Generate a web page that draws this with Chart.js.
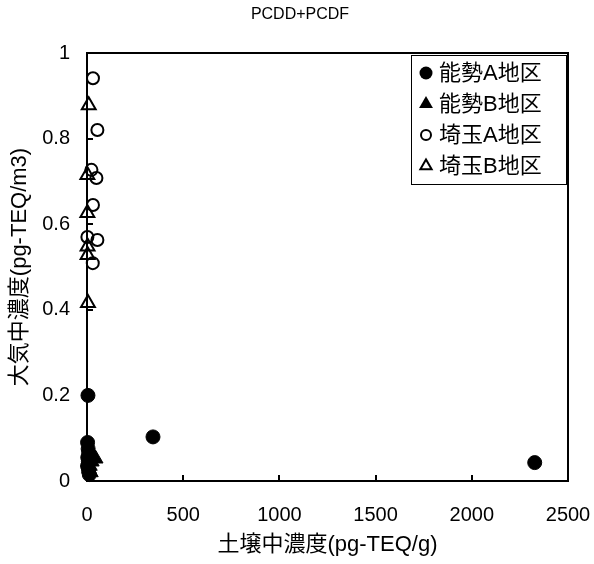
<!DOCTYPE html>
<html>
<head>
<meta charset="utf-8">
<script src="https://cdn.jsdelivr.net/npm/chart.js@4.4.1/dist/chart.umd.min.js"></script>
<style>
  html, body { margin: 0; padding: 0; background: #fff; }
</style>
</head>
<body>
<canvas id="scatterChart" width="594" height="564"></canvas>
<script>
  // series names (legend order)
  const seriesNames = ["能勢A地区", "能勢B地区", "埼玉A地区", "埼玉B地区"];

  // soil concentration (x) / air concentration (y)
  const noseA_x = [5, 343, 2327, 3, 6, 9, 4, 7, 3, 8, 12];
  const noseA_y = [0.20, 0.103, 0.043, 0.09, 0.075, 0.065, 0.055, 0.045, 0.035, 0.025, 0.015];

  const noseB_x = [45, 25, 15, 10, 20];
  const noseB_y = [0.052, 0.045, 0.035, 0.028, 0.02];

  const saitamaA_x = [31, 54, 23, 49, 31, 2, 54, 30];
  const saitamaA_y = [0.941, 0.82, 0.727, 0.708, 0.645, 0.57, 0.563, 0.509];

  const saitamaB_x = [9, 2, 2, 3, 3, 5];
  const saitamaB_y = [0.878, 0.715, 0.626, 0.548, 0.528, 0.416];

  const xTicks = [0, 500, 1000, 1500, 2000, 2500];
  const yTicks = [0, 0.2, 0.4, 0.6, 0.8, 1];

  const chartTitle = "PCDD+PCDF";
  const xTitle = "土壌中濃度(pg-TEQ/g)";
  const yTitle = "大気中濃度(pg-TEQ/m3)";

  const FONT = "'Liberation Sans', 'Noto Sans CJK JP', sans-serif";

  function toPoints(xs, ys) {
    return xs.map(function (x, i) { return { x: x, y: ys[i] }; });
  }

  Chart.defaults.font.family = FONT;
  Chart.defaults.color = "#000";

  /**
   * Box around the plot, legend box, and title
   */
  const frameAndLegend = {
    id: "frameAndLegend",
    afterDatasetsDraw: function (chart) {
      const ctx = chart.ctx;
      const a = chart.chartArea;
      ctx.save();
      ctx.strokeStyle = "#000";
      ctx.lineWidth = 2;
      ctx.strokeRect(a.left, a.top, a.right - a.left, a.bottom - a.top);

      // legend
      const lx = 411, ly = 55, lw = 155, lh = 129;
      ctx.fillStyle = "#fff";
      ctx.fillRect(lx, ly, lw, lh);
      ctx.lineWidth = 1;
      ctx.strokeRect(lx + 0.5, ly + 0.5, lw, lh);

      ctx.font = "22px " + FONT;
      ctx.textBaseline = "middle";
      ctx.textAlign = "left";
      chart.data.datasets.forEach(function (ds, i) {
        const cy = 73 + i * 31;
        const cx = 426;
        ctx.fillStyle = "#000";
        ctx.strokeStyle = "#000";
        ctx.lineWidth = 2;
        ctx.beginPath();
        if (ds.pointStyle === "circle") {
          ctx.arc(cx, cy, ds.filled ? 6.5 : 5, 0, Math.PI * 2);
        } else {
          const r = ds.filled ? 8 : 6.5;
          ctx.moveTo(cx, cy - r);
          ctx.lineTo(cx + r * 0.866, cy + r * 0.5);
          ctx.lineTo(cx - r * 0.866, cy + r * 0.5);
          ctx.closePath();
        }
        if (ds.filled) ctx.fill(); else ctx.stroke();
        ctx.fillText(ds.label, 439, cy + 1);
      });

      ctx.restore();
    },
    afterDraw: function (chart) {
      const ctx = chart.ctx;
      ctx.save();
      ctx.fillStyle = "#000";
      ctx.font = "16px " + FONT;
      ctx.textAlign = "center";
      ctx.textBaseline = "middle";
      ctx.fillText(chartTitle, 300, 15);
      ctx.restore();
    },
  };

  function makeSet(label, xs, ys, style, filled, radius) {
    return {
      label: label,
      data: toPoints(xs, ys),
      pointStyle: style,
      filled: filled,
      pointRadius: radius,
      pointBorderWidth: filled ? 1 : 2,
      pointBackgroundColor: filled ? "#000" : "rgba(0,0,0,0)",
      pointBorderColor: "#000",
      showLine: false,
      clip: false,
    };
  }

  const canvas = document.getElementById("scatterChart");
  new Chart(canvas.getContext("2d"), {
    type: "scatter",
    data: {
      datasets: [
        makeSet(seriesNames[0], noseA_x, noseA_y, "circle", true, 7),
        makeSet(seriesNames[1], noseB_x, noseB_y, "triangle", true, 8.5),
        makeSet(seriesNames[2], saitamaA_x, saitamaA_y, "circle", false, 6),
        makeSet(seriesNames[3], saitamaB_x, saitamaB_y, "triangle", false, 8),
      ],
    },
    options: {
      responsive: false,
      animation: false,
      events: [],
      layout: { padding: { top: 53, right: 26, left: 0, bottom: 0 } },
      plugins: {
        legend: { display: false },
        tooltip: { enabled: false },
        title: { display: false },
      },
      scales: {
        x: {
          type: "linear",
          min: 0,
          max: 2500,
          afterFit: function (s) {
            s.height = 83;
            s.paddingLeft = 0;
            s.paddingRight = 0;
          },
          afterBuildTicks: function (s) {
            s.ticks = xTicks.map(function (v) { return { value: v }; });
          },
          ticks: {
            font: { size: 20 },
            padding: 28,
            maxRotation: 0,
            callback: function (v) { return String(v); },
          },
          grid: { drawOnChartArea: false, drawTicks: true, tickLength: -6, color: "#000", lineWidth: 2 },
          border: { display: true, color: "#000", width: 2 },
          title: { display: true, text: xTitle, font: { size: 22 }, padding: { top: 0, bottom: 6 } },
        },
        y: {
          type: "linear",
          min: 0,
          max: 1,
          afterFit: function (s) {
            s.width = 87;
            s.paddingTop = 0;
            s.paddingBottom = 0;
          },
          afterBuildTicks: function (s) {
            s.ticks = yTicks.map(function (v) { return { value: v }; });
          },
          ticks: {
            font: { size: 20 },
            padding: 23,
            callback: function (v) {
              return v === 0 || v === 1 ? String(v) : v.toFixed(1);
            },
          },
          grid: { drawOnChartArea: false, drawTicks: true, tickLength: -6, color: "#000", lineWidth: 2 },
          border: { display: true, color: "#000", width: 2 },
          title: { display: true, text: yTitle, font: { size: 22 }, padding: { top: 7, bottom: 0 } },
        },
      },
    },
    plugins: [frameAndLegend],
  });
</script>
</body>
</html>
